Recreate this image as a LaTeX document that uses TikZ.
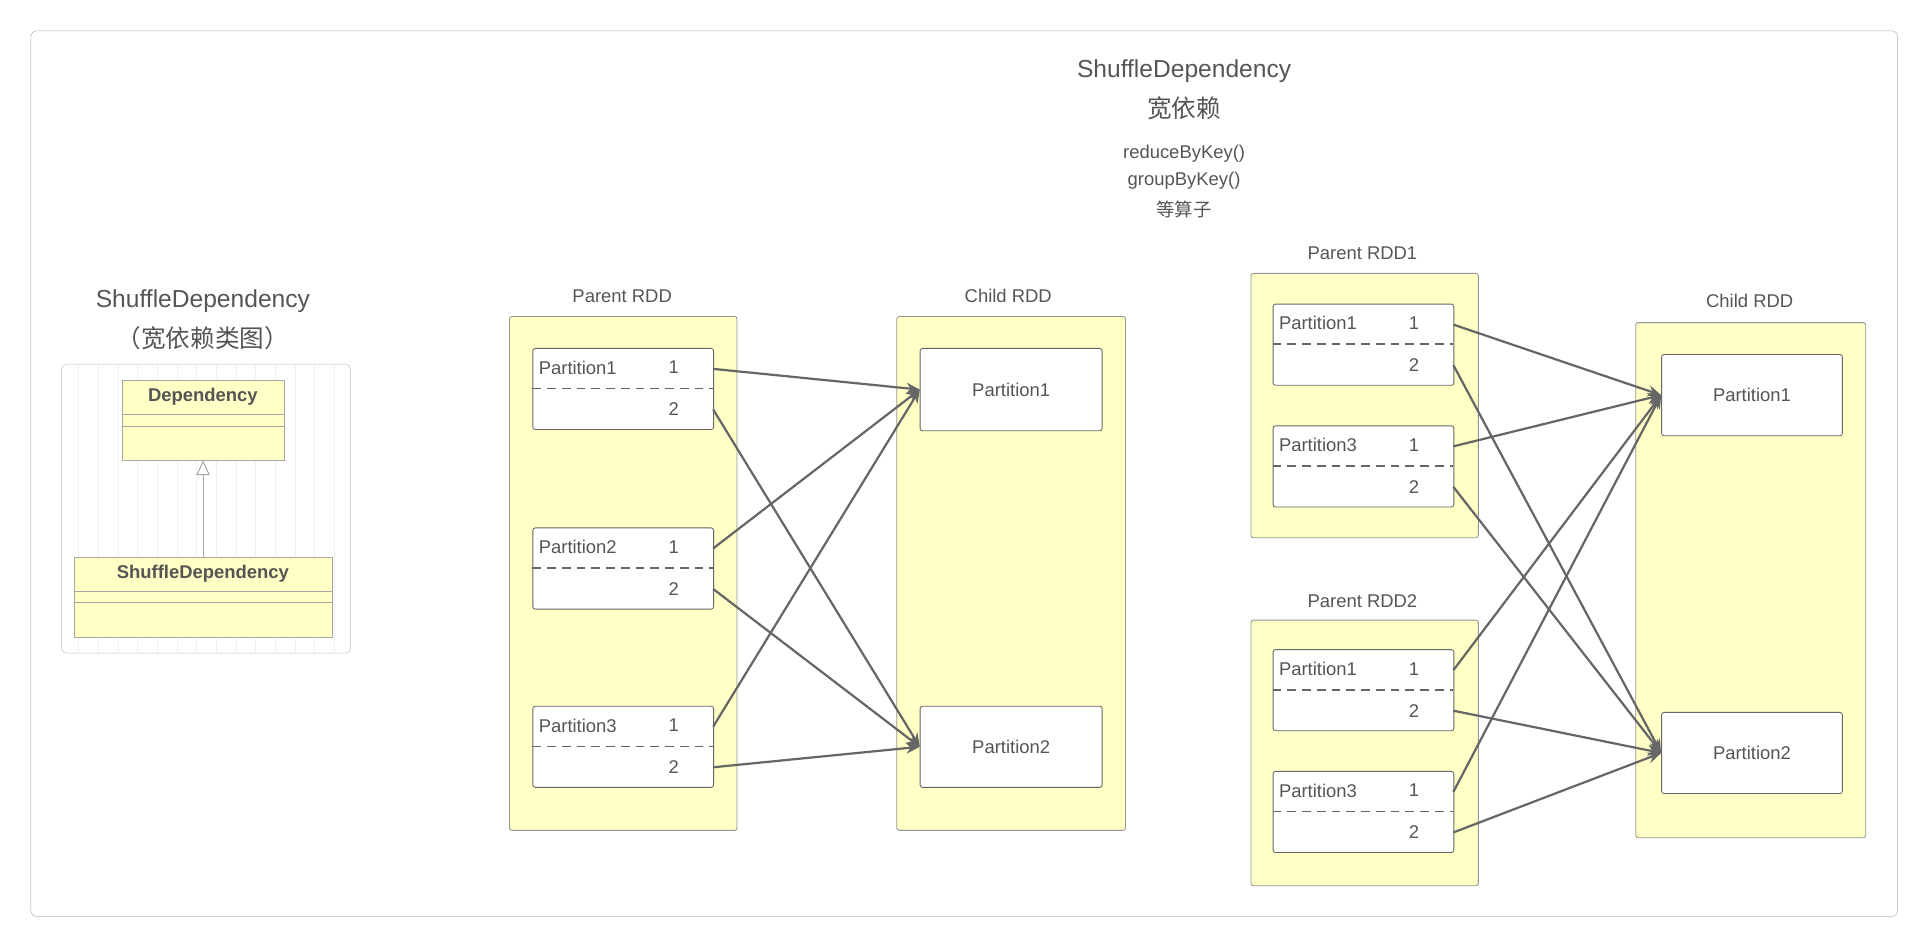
\documentclass[tikz,border=0pt]{standalone}
\usepackage{fontspec}
\setmainfont{Liberation Sans}
\newfontfamily\cjk{Noto Sans CJK SC}
\usetikzlibrary{arrows.meta}
\definecolor{ylw}{HTML}{FFFFC6}
\definecolor{txt}{HTML}{555555}
\definecolor{edge}{HTML}{666666}
\begin{document}
\begin{tikzpicture}[x=1pt,y=-1pt,
  rdd/.style={draw=edge!70,fill=ylw,rounded corners=2pt,line width=0.7pt},
  part/.style={draw=edge,fill=white,rounded corners=2pt,line width=0.7pt},
  lbl/.style={text=txt,font=\fontsize{15}{17}\selectfont,inner sep=0},
  big/.style={text=txt,font=\fontsize{20}{24}\selectfont,inner sep=0},
  arr/.style={draw=edge,line width=1.8pt,-{Stealth[length=11pt,width=9pt]}},
  dsh/.style={draw=edge,line width=1.4pt,dash pattern=on 7pt off 5pt}]
\useasboundingbox (0,0) rectangle (1568,770);
\node[draw=gray!60,rounded corners=4pt,minimum width=1518pt,minimum height=720pt,anchor=north west,inner sep=0] (frame) at (25,25) {};
\node[big] (t1) at (963,58) {ShuffleDependency};
\node[big] (t2) at (963,88) {\cjk 宽依赖};
\node[lbl] (t3) at (963,125) {reduceByKey()};
\node[lbl] (t4) at (963,147) {groupByKey()};
\node[lbl] (t5) at (963,170) {\cjk 等算子};
% left class diagram
\node[big] (l1) at (165,245) {ShuffleDependency};
\node[big] (l2) at (165,275) {\cjk （宽依赖类图）};
\begin{scope}
\clip[rounded corners=4pt] (50,296) rectangle (285,531);
\draw[gray!12,line width=0.5pt,step=16] (48,296) grid (290,535);
\end{scope}
\node[draw=gray!50,rounded corners=4pt,minimum width=235pt,minimum height=235pt,anchor=north west,inner sep=0] (grid) at (50,296) {};
\node[draw=gray!70,fill=ylw,minimum width=132pt,minimum height=65pt,anchor=north west,inner sep=0] (dep) at (99,309) {};
\draw[gray!70] (99,337) -- (231,337) (99,347) -- (231,347);
\node[text=txt,font=\bfseries\fontsize{15}{17}\selectfont] (depl) at (165,323) {Dependency};
\node[draw=gray!70,fill=ylw,minimum width=210pt,minimum height=65pt,anchor=north west,inner sep=0] (sd) at (60,453) {};
\draw[gray!70] (60,481) -- (270,481) (60,490) -- (270,490);
\node[text=txt,font=\bfseries\fontsize{15}{17}\selectfont] (sdl) at (165,467) {ShuffleDependency};
\draw[gray!70,line width=0.8pt,-{Triangle[open,length=12pt,width=11pt]}] (sd.north) -- (dep.south);
% partition macro
\newcommand{\mypart}[3]{% name, x, ytop
  \node[part,minimum width=147pt,minimum height=66pt,anchor=north west,inner sep=0] (#1) at (#2,#3) {};
  \draw[dsh] (#2,#3+33) -- (#2+147,#3+33);
  \coordinate (#1a) at (#2+147,#3+17);
  \coordinate (#1b) at (#2+147,#3+50);}
\newcommand{\partlabels}[4]{% x, ytop, label
  \node[lbl,anchor=west] at (#1+5,#2+16) {#3};
  \node[lbl] at (#1+115,#2+16) {1};
  \node[lbl] at (#1+115,#2+50) {2};}
% left group
\node[lbl] (prl) at (506,241) {Parent RDD};
\node[rdd,minimum width=185pt,minimum height=418pt,anchor=north west,inner sep=0] (pr) at (414,257) {};
\node[lbl] (crl) at (820,241) {Child RDD};
\node[rdd,minimum width=186pt,minimum height=418pt,anchor=north west,inner sep=0] (cr) at (729,257) {};
\mypart{a1}{433}{283}\partlabels{433}{283}{Partition1}{}
\mypart{a2}{433}{429}\partlabels{433}{429}{Partition2}{}
\mypart{a3}{433}{574}\partlabels{433}{574}{Partition3}{}
\node[part,minimum width=148pt,minimum height=67pt,anchor=north west,inner sep=0,text=txt,font=\fontsize{15}{17}\selectfont] (c1) at (748,283) {Partition1};
\node[part,minimum width=148pt,minimum height=66pt,anchor=north west,inner sep=0,text=txt,font=\fontsize{15}{17}\selectfont] (c2) at (748,574) {Partition2};
\foreach \p in {a1,a2,a3}{
  \draw[arr] (\p a) -- (c1.west);
  \draw[arr] (\p b) -- (c2.west);}
% right group
\node[lbl] (p1l) at (1108,206) {Parent RDD1};
\node[rdd,minimum width=185pt,minimum height=215pt,anchor=north west,inner sep=0] (p1) at (1017,222) {};
\node[lbl] (p2l) at (1108,489) {Parent RDD2};
\node[rdd,minimum width=185pt,minimum height=216pt,anchor=north west,inner sep=0] (p2) at (1017,504) {};
\node[lbl] (c2l) at (1423,245) {Child RDD};
\node[rdd,minimum width=187pt,minimum height=419pt,anchor=north west,inner sep=0] (cr2) at (1330,262) {};
\mypart{b1}{1035}{247}\partlabels{1035}{247}{Partition1}{}
\mypart{b2}{1035}{346}\partlabels{1035}{346}{Partition3}{}
\mypart{b3}{1035}{528}\partlabels{1035}{528}{Partition1}{}
\mypart{b4}{1035}{627}\partlabels{1035}{627}{Partition3}{}
\node[part,minimum width=147pt,minimum height=66pt,anchor=north west,inner sep=0,text=txt,font=\fontsize{15}{17}\selectfont] (d1) at (1351,288) {Partition1};
\node[part,minimum width=147pt,minimum height=66pt,anchor=north west,inner sep=0,text=txt,font=\fontsize{15}{17}\selectfont] (d2) at (1351,579) {Partition2};
\foreach \p in {b1,b2,b3,b4}{
  \draw[arr] (\p a) -- (d1.west);
  \draw[arr] (\p b) -- (d2.west);}
\end{tikzpicture}
\end{document}
